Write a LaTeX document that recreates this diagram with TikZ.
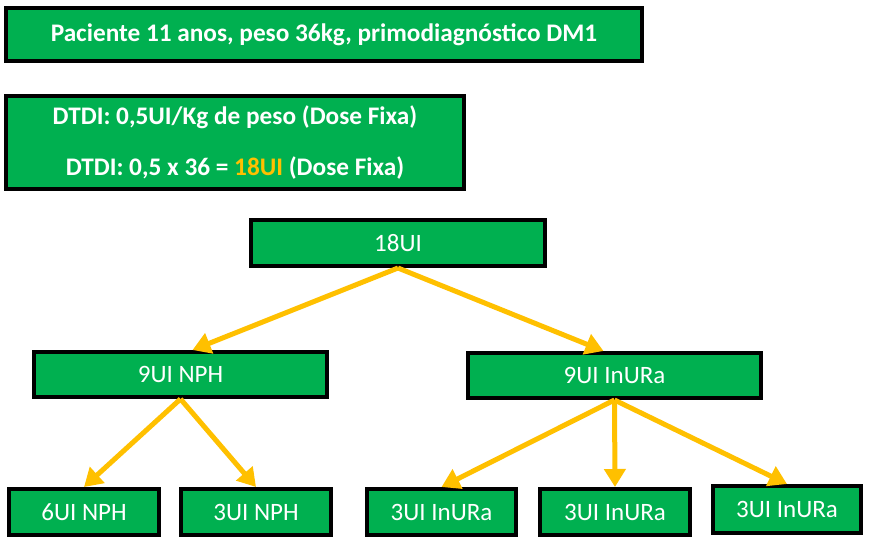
\documentclass[tikz,border=0pt]{standalone}
\usepackage{fontspec}
\setmainfont{Carlito}
\usepackage{tikz}
\usetikzlibrary{arrows.meta}
\definecolor{boxgreen}{HTML}{00B050}
\definecolor{arrowgold}{HTML}{FFC000}

\begin{document}
\begin{tikzpicture}[x=1pt,y=-1pt,
  caixa/.style={draw=black,line width=4pt,fill=boxgreen,text=white,inner sep=0pt,
    font=\fontsize{25}{29}\selectfont},
  titulo/.style={caixa,font=\bfseries\fontsize{25.3}{51}\selectfont,align=center},
  seta/.style={draw=arrowgold,line width=5pt,-{Triangle[length=18pt,width=21pt]}}]
\useasboundingbox (0,0) rectangle (870,543);

% dados do paciente e dose
\node[titulo,minimum width=636pt,minimum height=53pt] (pac) at (324,34.5)
  {Paciente 11 anos, peso 36kg, primodiagnóstico DM1};
\node[titulo,minimum width=458pt,minimum height=93pt] (dtdi) at (235,142.5)
  {DTDI: 0,5UI/Kg de peso (Dose Fixa)\\
   DTDI: 0,5 x 36 = {\color{arrowgold}18UI} (Dose Fixa)};

% arvore de doses
\node[caixa,minimum width=294pt,minimum height=46pt] (total) at (398,243) {18UI};
\node[caixa,minimum width=293pt,minimum height=45pt] (nph) at (180.5,374.5) {9UI NPH};
\node[caixa,minimum width=293pt,minimum height=45pt] (inura) at (614.5,375.5) {9UI InURa};

\node[caixa,minimum width=150pt,minimum height=46pt] (nphA) at (84,512) {6UI NPH};
\node[caixa,minimum width=150pt,minimum height=46pt] (nphB) at (256,512) {3UI NPH};
\node[caixa,minimum width=149pt,minimum height=46pt] (inuraA) at (441.5,512) {3UI InURa};
\node[caixa,minimum width=150pt,minimum height=46pt] (inuraB) at (615,512) {3UI InURa};
\node[caixa,minimum width=148pt,minimum height=47pt] (inuraC) at (787,509.5) {3UI InURa};

\draw[seta] (total.south) -- ([xshift=12pt]nph.north);
\draw[seta] (total.south) -- ([xshift=-11pt]inura.north);
\draw[seta] (nph.south) -- (nphA.north);
\draw[seta] (nph.south) -- (nphB.north);
\foreach \dest in {inuraA,inuraB,inuraC}
  \draw[seta] (inura.south) -- (\dest.north);
\end{tikzpicture}
\end{document}
